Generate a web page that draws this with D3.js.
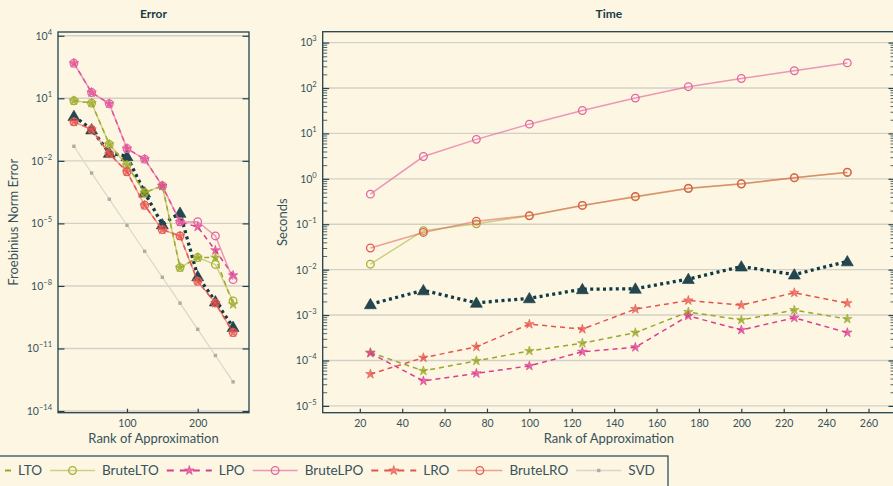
<!DOCTYPE html>
<html>
<head>
<meta charset="utf-8">
<script src="https://cdn.jsdelivr.net/npm/d3@7"></script>
<style>
    body { margin: 0; background: #fdf6e3; }
    svg { display: block; font-family: Lato, "Open Sans", sans-serif; }
</style>
</head>
<body>
<div id="chart"></div>
<script>
// ranks on the x axis (both panels)
const ranks = [25, 50, 75, 100, 125, 150, 175, 200, 225, 250];

// Error panel (Frobenius norm error)
const errBlack    = [1.4, 0.32, 0.024, 0.0166, 3.0e-4, 8.9e-6, 3.2e-5, 2.9e-8, 1.8e-9, 1.07e-10];
const errLTO      = [7.6, 5.9, 0.062, 6.2e-3, 3.0e-4, 6.3e-4, 7.6e-8, 2.3e-7, 2.3e-7, 1.3e-9];
const errBruteLTO = [7.6, 5.9, 0.062, 6.2e-3, 3.0e-4, 6.3e-4, 7.6e-8, 2.3e-7, 1.07e-7, 1.9e-9];
const errLPO      = [480, 19, 5.5, 0.039, 0.012, 6.3e-4, 1.17e-5, 6.8e-6, 5.1e-7, 3.2e-8];
const errBruteLPO = [480, 19, 5.5, 0.039, 0.012, 6.3e-4, 1.17e-5, 1.2e-5, 2.5e-6, 2.0e-8];
const errLRO      = [0.74, 0.32, 0.022, 3.0e-3, 7.4e-5, 5.0e-6, 2.5e-6, 1.66e-8, 1.5e-9, 5.8e-11];
const errBruteLRO = [0.74, 0.32, 0.022, 3.0e-3, 7.4e-5, 5.0e-6, 2.5e-6, 1.66e-8, 1.5e-9, 5.8e-11];
const errSVD      = [0.05, 2.6e-3, 1.45e-4, 8.1e-6, 4.6e-7, 2.6e-8, 1.5e-9, 8.3e-11, 4.6e-12, 2.5e-13];

// Time panel (seconds)
const timeBlack    = [0.00173, 0.0035, 0.00186, 0.00234, 0.0037, 0.0038, 0.0062, 0.0117, 0.0078, 0.0152];
const timeLTO      = [1.5e-4, 5.9e-5, 9.8e-5, 1.62e-4, 2.4e-4, 4.1e-4, 1.17e-3, 7.8e-4, 1.29e-3, 8.2e-4];
const timeBruteLTO = [0.0132, 0.072, 0.102, 0.153, 0.26, 0.40, 0.61, 0.77, 1.05, 1.38];
const timeLPO      = [1.45e-4, 3.55e-5, 5.2e-5, 7.6e-5, 1.55e-4, 1.95e-4, 9.6e-4, 4.7e-4, 8.7e-4, 4.1e-4];
const timeBruteLPO = [0.46, 3.1, 7.4, 16, 32, 60, 107, 162, 240, 357];
const timeLRO      = [5.0e-5, 1.15e-4, 2.0e-4, 6.3e-4, 4.9e-4, 1.35e-3, 2.1e-3, 1.65e-3, 3.1e-3, 1.82e-3];
const timeBruteLRO = [0.030, 0.066, 0.117, 0.155, 0.26, 0.41, 0.62, 0.78, 1.06, 1.4];

const errTicks  = [1e4, 1e1, 1e-2, 1e-5, 1e-8, 1e-11, 1e-14];
const timeTicks = [1e3, 1e2, 1e1, 1e0, 1e-1, 1e-2, 1e-3, 1e-4, 1e-5];
const errXTicks  = [100, 200];
const timeXTicks = [20, 40, 60, 80, 100, 120, 140, 160, 180, 200, 220, 240, 260];

// series styles, legend order
const series = [
    { name: "black",    err: errBlack,    time: timeBlack,    color: "#0f3a46", dash: "3,3.4", width: 3.3, sym: "tri",  legend: false },
    { name: "LTO",      err: errLTO,      time: timeLTO,      color: "#98a828", dash: "5,4",   width: 1.5, sym: "star" },
    { name: "BruteLTO", err: errBruteLTO, time: timeBruteLTO, color: "#a5b030", dash: null,    width: 1.5, sym: "circ", lineOpacity: 0.55 },
    { name: "LPO",      err: errLPO,      time: timeLPO,      color: "#dc3d8f", dash: "5,4",   width: 1.5, sym: "star" },
    { name: "BruteLPO", err: errBruteLPO, time: timeBruteLPO, color: "#e3649f", dash: null,    width: 1.5, sym: "circ", lineOpacity: 0.65 },
    { name: "LRO",      err: errLRO,      time: timeLRO,      color: "#e5544c", dash: "5,4",   width: 1.5, sym: "star" },
    { name: "BruteLRO", err: errBruteLRO, time: timeBruteLRO, color: "#e65a55", dash: null,    width: 1.5, sym: "circ", lineOpacity: 0.55 },
    { name: "SVD",      err: errSVD,      time: null,         color: "#d6d5c9", dash: null,    width: 1.1, sym: "sq" }
];

const W = 893, H = 486;
const textColor = "#36525c", frameColor = "#23424d", gridColor = "#d3d1c6";

const svg = d3.select("#chart").append("svg")
    .attr("width", W)
    .attr("height", H)
    .style("background", "#fdf6e3");

function drawMarker(g, s, px, py) {
    if (s.sym === "circ") {
        g.append("circle").attr("cx", px).attr("cy", py).attr("r", 3.8)
            .attr("fill", "none").attr("stroke", s.color).attr("stroke-width", 1.3);
    } else if (s.sym === "star") {
        g.append("path").attr("d", d3.symbol(d3.symbolStar, 28)())
            .attr("transform", `translate(${px},${py})`)
            .attr("fill", s.color).attr("fill-opacity", 0.75)
            .attr("stroke", s.color).attr("stroke-width", 0.6);
    } else if (s.sym === "tri") {
        g.append("path").attr("d", d3.symbol(d3.symbolTriangle, 62)())
            .attr("transform", `translate(${px},${py + 1})`)
            .attr("fill", "#24464f").attr("stroke", "#163a44").attr("stroke-width", 0.6);
    } else if (s.sym === "sq") {
        g.append("rect").attr("x", px - 1.7).attr("y", py - 1.7)
            .attr("width", 3.4).attr("height", 3.4).attr("fill", "#aeada4");
    }
}

function supText(sel, v) {
    const e = Math.round(Math.log10(v));
    sel.text(null);
    sel.append("tspan").text("10");
    sel.append("tspan").attr("dy", -5).attr("font-size", 7.5)
        .text(e < 0 ? "\u2212" + (-e) : String(e));
}

function panel(opt) {
    const { x0, x1, y0, y1, yDomain, yTicks, xTicks, minor, key, title, ylabel, ylabelX } = opt;
    const x = d3.scaleLinear().domain([2.5, 272.5]).range([x0, x1]);
    const y = d3.scaleLog().domain(yDomain).range([y1, y0]);
    const g = svg.append("g");

    // grid
    g.append("g").selectAll("line").data(yTicks).join("line")
        .attr("x1", x0).attr("x2", x1)
        .attr("y1", d => y(d)).attr("y2", d => y(d))
        .attr("stroke", gridColor).attr("stroke-width", 1.4);

    // minor ticks
    if (minor) {
        const mins = [];
        yTicks.forEach(t => { for (let k = 2; k <= 9; k++) if (t * k < yDomain[1]) mins.push(t * k); });
        g.append("g").attr("transform", `translate(${x0},0)`)
            .call(d3.axisLeft(y).tickValues(mins).tickSize(-4.5).tickFormat(""))
            .call(a => a.select(".domain").remove())
            .selectAll("line").attr("stroke", frameColor).attr("stroke-width", 0.8);
        g.append("g").attr("transform", `translate(${x1},0)`)
            .call(d3.axisRight(y).tickValues(mins).tickSize(-4.5).tickFormat(""))
            .call(a => a.select(".domain").remove())
            .selectAll("line").attr("stroke", frameColor).attr("stroke-width", 0.8);
    }

    // major y ticks + labels
    const ya = g.append("g").attr("transform", `translate(${x0},0)`)
        .call(d3.axisLeft(y).tickValues(yTicks).tickSize(-6.5).tickPadding(6));
    ya.select(".domain").remove();
    ya.selectAll("line").attr("stroke", frameColor).attr("stroke-width", 1.2);
    ya.selectAll("text").each(function (d) { supText(d3.select(this), d); })
        .attr("fill", textColor).attr("font-size", 10.5).attr("font-family", "Lato, sans-serif");
    const yr = g.append("g").attr("transform", `translate(${x1},0)`)
        .call(d3.axisRight(y).tickValues(yTicks).tickSize(-6.5).tickFormat(""));
    yr.select(".domain").remove();
    yr.selectAll("line").attr("stroke", frameColor).attr("stroke-width", 1.2);

    // x ticks
    const xa = g.append("g").attr("transform", `translate(0,${y1})`)
        .call(d3.axisBottom(x).tickValues(xTicks).tickSize(-4).tickPadding(7));
    xa.select(".domain").remove();
    xa.selectAll("line").attr("stroke", frameColor).attr("stroke-width", 1.2);
    xa.selectAll("text").attr("fill", textColor).attr("font-size", 10.5).attr("font-family", "Lato, sans-serif");

    // series
    const clip = "clip-" + key;
    svg.append("clipPath").attr("id", clip).append("rect")
        .attr("x", x0).attr("y", y0).attr("width", x1 - x0).attr("height", y1 - y0);
    const plot = g.append("g").attr("clip-path", `url(#${clip})`);
    series.forEach(s => {
        const vals = s[key];
        if (!vals) return;
        const pts = ranks.map((r, i) => [x(r), y(vals[i])]);
        const sg = plot.append("g");
        sg.append("path").attr("d", d3.line()(pts))
            .attr("fill", "none").attr("stroke", s.color)
            .attr("stroke-opacity", s.lineOpacity || 1)
            .attr("stroke-width", s.width)
            .attr("stroke-dasharray", s.dash);
        pts.forEach(p => drawMarker(sg, s, p[0], p[1]));
    });

    // frame
    g.append("rect").attr("x", x0).attr("y", y0)
        .attr("width", x1 - x0).attr("height", y1 - y0)
        .attr("fill", "none").attr("stroke", frameColor).attr("stroke-width", 1.3);

    // labels
    const cx = (x0 + x1) / 2;
    g.append("text").attr("x", cx).attr("y", 18).attr("text-anchor", "middle")
        .attr("font-weight", "bold").attr("font-size", 12).attr("fill", "#173d48").text(title);
    g.append("text").attr("x", cx).attr("y", 443).attr("text-anchor", "middle")
        .attr("font-size", 13).attr("fill", textColor).text("Rank of Approximation");
    g.append("text")
        .attr("transform", `translate(${ylabelX},${(y0 + y1) / 2}) rotate(-90)`)
        .attr("text-anchor", "middle").attr("font-size", 13).attr("fill", textColor).text(ylabel);
}

panel({
    x0: 58, x1: 249, y0: 32, y1: 412.7,
    yDomain: [Math.pow(10, -14.08), Math.pow(10, 4.18)],
    yTicks: errTicks, xTicks: errXTicks, minor: false, key: "err",
    title: "Error", ylabel: "Froebinius Norm Error", ylabelX: 18
});
panel({
    x0: 322.7, x1: 895, y0: 31.7, y1: 412.7,
    yDomain: [Math.pow(10, -5.15), Math.pow(10, 3.24)],
    yTicks: timeTicks, xTicks: timeXTicks, minor: true, key: "time",
    title: "Time", ylabel: "Seconds", ylabelX: 287
});

// legend (its left part runs off the page)
const leg = svg.append("g");
const legItems = series.filter(s => s.legend !== false);
leg.append("rect").attr("x", -420).attr("y", 456).attr("width", 1088).attr("height", 36)
    .attr("fill", "#fdf6e3").attr("stroke", frameColor).attr("stroke-width", 1.2);
let lx = -34;
const ly = 470.5;
legItems.forEach(s => {
    const ig = leg.append("g");
    ig.append("line").attr("x1", lx).attr("x2", lx + 45).attr("y1", ly).attr("y2", ly)
        .attr("stroke", s.color).attr("stroke-opacity", s.lineOpacity || 1)
        .attr("stroke-width", s.dash ? 2 : 1.6)
        .attr("stroke-dasharray", s.dash ? "7,6" : null);
    drawMarker(ig, s, lx + 22.5, ly);
    const t = leg.append("text").attr("x", lx + 52).attr("y", ly + 4.5)
        .attr("font-size", 13.5).attr("fill", textColor).text(s.name);
    lx = lx + 52 + t.node().getComputedTextLength() + 8;
});
</script>
</body>
</html>
